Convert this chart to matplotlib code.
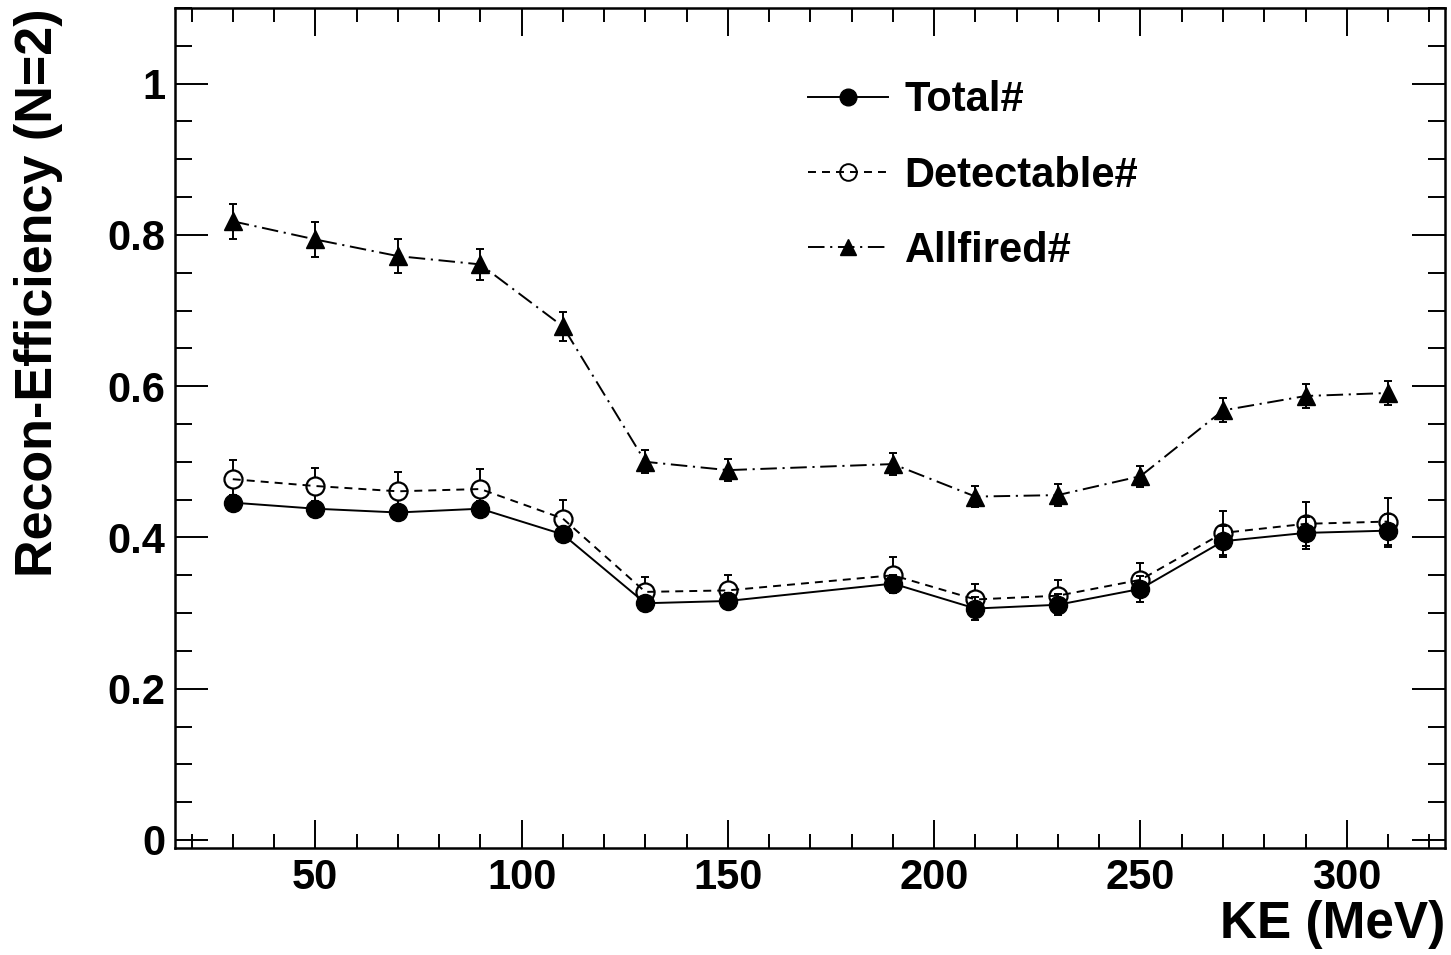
import matplotlib
matplotlib.use("Agg")
import matplotlib.pyplot as plt
from matplotlib.ticker import MultipleLocator, FuncFormatter
from matplotlib.lines import Line2D

plt.rcParams['font.family'] = ['Liberation Sans', 'DejaVu Sans']
plt.rcParams['font.weight'] = 'bold'

ke = [30, 50, 70, 90, 110, 130, 150, 190, 210, 230, 250, 270, 290, 310]
total = [0.446, 0.438, 0.433, 0.438, 0.404, 0.313, 0.316, 0.339, 0.306, 0.311, 0.332, 0.395, 0.406, 0.409]
total_err = [0.010, 0.010, 0.010, 0.010, 0.010, 0.010, 0.011, 0.012, 0.0146, 0.014, 0.0176, 0.0207, 0.021, 0.022]
detect = [0.477, 0.468, 0.461, 0.464, 0.425, 0.328, 0.330, 0.350, 0.318, 0.323, 0.344, 0.406, 0.418, 0.421]
detect_err = [0.026, 0.024, 0.025, 0.027, 0.024, 0.020, 0.020, 0.024, 0.020, 0.021, 0.0225, 0.029, 0.029, 0.031]
allfired = [0.818, 0.794, 0.772, 0.761, 0.679, 0.500, 0.489, 0.497, 0.454, 0.456, 0.481, 0.568, 0.587, 0.591]
allfired_err = [0.023, 0.023, 0.022, 0.021, 0.019, 0.015, 0.015, 0.015, 0.014, 0.014, 0.014, 0.016, 0.016, 0.016]

labels = ['Total#', 'Detectable#', 'Allfired#']
xlabel = 'KE (MeV)'
ylabel = 'Recon-Efficiency (N=2)'

fig = plt.figure(figsize=(14.51, 9.55), dpi=100)
ax = fig.add_axes([175/1451, 1-848/955, 1270/1451, 840/955])

lw = 1.4
dash = (0, (4.1, 3.1))
dashdot = (0, (8.5, 2.9, 1.1, 2.9))
ms = 13
cap = 2.6

# Allfired
ax.errorbar(ke, allfired, yerr=allfired_err, fmt='none', ecolor='k',
            elinewidth=lw, capsize=cap, capthick=lw, zorder=2)
ax.plot(ke, allfired, color='k', lw=lw, linestyle=dashdot, zorder=2.2)
ax.plot(ke, allfired, linestyle='none', marker='^', ms=ms, color='k', zorder=3)

# Detectable
ax.errorbar(ke, detect, yerr=detect_err, fmt='none', ecolor='k',
            elinewidth=lw, capsize=cap, capthick=lw, zorder=2)
ax.plot(ke, detect, linestyle='none', marker='o', ms=ms, mfc='white', mec='none', zorder=2.5)
ax.plot(ke, detect, color='k', lw=lw, linestyle=dash, zorder=2.7)

# Total
ax.errorbar(ke, total, yerr=total_err, fmt='none', ecolor='k',
            elinewidth=lw, capsize=cap, capthick=lw, zorder=2.9)
ax.plot(ke, total, color='k', lw=lw, linestyle='-', marker='o', ms=ms, zorder=3)

# Detectable outlines on top
ax.plot(ke, detect, linestyle='none', marker='o', ms=ms, mfc='none', mec='k', mew=1.6, zorder=4)

ax.set_xlim(16, 323.8)
ax.set_ylim(-0.0106, 1.1)

ax.xaxis.set_major_locator(MultipleLocator(50))
ax.xaxis.set_minor_locator(MultipleLocator(10))
ax.yaxis.set_major_locator(MultipleLocator(0.2))
ax.yaxis.set_minor_locator(MultipleLocator(0.05))
ax.yaxis.set_major_formatter(FuncFormatter(lambda v, p: '%g' % round(v, 3)))

for s in ax.spines.values():
    s.set_linewidth(1.8)

ax.tick_params(axis='both', which='both', direction='in', top=True, right=True, width=1.4)
ax.tick_params(axis='y', which='major', length=23.5, labelsize=30, pad=7)
ax.tick_params(axis='y', which='minor', length=12)
ax.tick_params(axis='x', which='major', length=20, labelsize=30, pad=7)
ax.tick_params(axis='x', which='minor', length=10)
for t in ax.get_xticklabels() + ax.get_yticklabels():
    t.set_fontweight('bold')

ax.set_xlabel(xlabel, fontsize=37, fontweight='bold', loc='right')
ax.xaxis.set_label_coords(1.0, -0.062)
ax.set_ylabel(ylabel, fontsize=37.5, fontweight='bold', loc='top')
ax.yaxis.set_label_coords(-0.088, 1.0)

handles = [
    Line2D([], [], color='k', lw=lw, linestyle='-', marker='o', ms=12),
    Line2D([], [], color='k', lw=lw, linestyle=dash, marker='o', ms=12, mfc='none', mew=1.4),
    Line2D([], [], color='k', lw=lw, linestyle=dashdot, marker='^', ms=11),
]
leg = ax.legend(handles, labels, loc='upper left', bbox_to_anchor=(0.4984, 0.914),
                frameon=False, handlelength=1.91, handletextpad=0.41,
                labelspacing=0.85, borderpad=0, borderaxespad=0,
                prop={'weight': 'bold', 'size': 30})

fig.savefig('out.png', dpi=100)
